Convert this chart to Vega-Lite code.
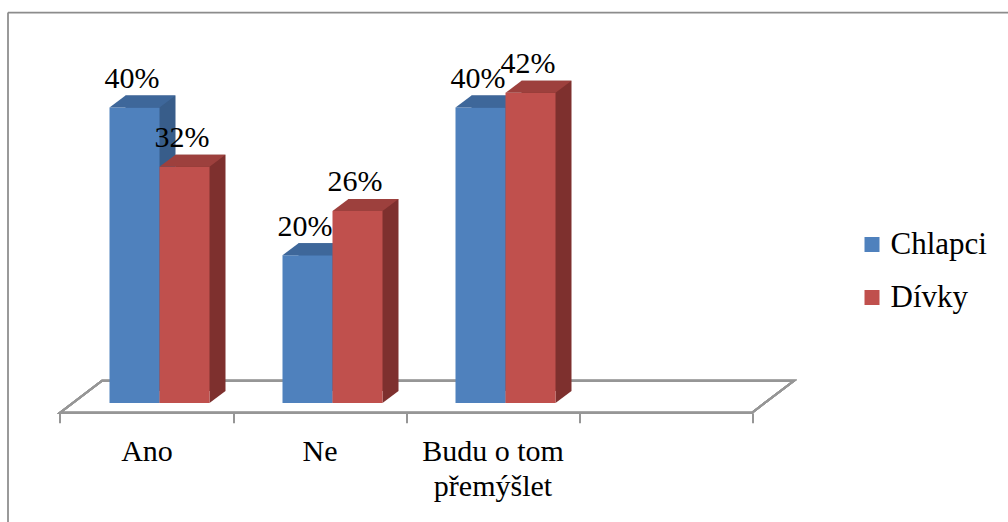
{
  "$schema": "https://vega.github.io/schema/vega-lite/v6.json",
  "width": 1000.5,
  "height": 510,
  "autosize": {"type": "none"},
  "padding": {"left": 7.5, "top": 12, "right": 0, "bottom": 0},
  "background": "white",
  "config": {"view": {"stroke": null}, "font": "Liberation Serif, Times New Roman, serif"},
  "data": {
    "values": [
      {"cat": "Ano", "series": "Chlapci", "value": 0.40},
      {"cat": "Ano", "series": "Dívky", "value": 0.32},
      {"cat": "Ne", "series": "Chlapci", "value": 0.20},
      {"cat": "Ne", "series": "Dívky", "value": 0.26},
      {"cat": "Budu o tom přemýšlet", "series": "Chlapci", "value": 0.40},
      {"cat": "Budu o tom přemýšlet", "series": "Dívky", "value": 0.42}
    ]
  },
  "encoding": {
    "x": {
      "field": "cat",
      "type": "nominal",
      "sort": null,
      "scale": {"domain": ["Ano", "Ne", "Budu o tom přemýšlet", " "], "paddingInner": 0, "paddingOuter": 0.8916, "align": 0.17018},
      "axis": {
        "title": null,
        "domain": false,
        "grid": false,
        "ticks": true,
        "tickBand": "extent",
        "tickSize": 10,
        "tickColor": "#969696",
        "tickWidth": 2,
        "labelFont": "Liberation Serif, Times New Roman, serif",
        "labelFontSize": 30,
        "labelColor": "black",
        "labelPadding": 14,
        "labelAngle": 0,
        "labelLimit": 0,
        "labelLineHeight": 35,
        "offset": -109.3,
        "labelExpr": "datum.value == 'Budu o tom přemýšlet' ? ['Budu o tom', 'přemýšlet'] : datum.label"
      }
    },
    "y": {
      "field": "value",
      "type": "quantitative",
      "scale": {"domain": [-0.16114, 0.52945], "nice": false, "zero": false},
      "axis": {
        "title": null,
        "labels": false,
        "ticks": false,
        "domain": true,
        "domainColor": "#8c8c8c",
        "domainWidth": 1.75,
        "grid": true,
        "gridColor": "#8c8c8c",
        "gridWidth": 1.75,
        "values": [0.52945]
      }
    }
  },
  "layer": [
    {
      "mark": {"type": "point", "shape": "M-1,0L1,0L1.1214,-0.0925L-0.8786,-0.0925Z", "filled": false, "stroke": "#969696", "strokeWidth": 2, "opacity": 1, "size": 478864, "xOffset": 86.5},
      "encoding": {"x": {"datum": "Ne", "type": "nominal"}, "y": {"datum": -0.01313, "type": "quantitative"}}
    },
    {
      "transform": [{"filter": "datum.series == 'Chlapci'"}],
      "layer": [
        {"mark": {"type": "bar", "width": 50, "xOffset": 4, "yOffset": -12, "y2Offset": -12, "color": "#385D8A"}},
        {"mark": {"type": "point", "shape": "M1,0L1,-0.48L1.64,-0.48Z", "filled": true, "color": "#385D8A", "opacity": 1, "strokeWidth": 0, "size": 2500, "xOffset": -12}, "encoding": {"y": {"datum": 0, "type": "quantitative"}}},
        {"mark": {"type": "bar", "width": 50, "xOffset": -12},
         "encoding": {"color": {"field": "series", "type": "nominal", "scale": {"domain": ["Chlapci", "Dívky"], "range": ["#4F81BD", "#C0504D"]},
           "legend": {"orient": "none", "legendX": 849, "legendY": 217, "title": null, "symbolType": "square", "symbolSize": 225, "symbolStrokeWidth": 0, "labelFont": "Liberation Serif, Times New Roman, serif", "labelFontSize": 31, "labelColor": "black", "labelOffset": 3, "rowPadding": 21, "padding": 0}}}},
        {"mark": {"type": "point", "shape": "M-1,0L1,0L1.64,-0.48L-0.36,-0.48Z", "filled": true, "color": "#3E679A", "opacity": 1, "strokeWidth": 0, "size": 2500, "xOffset": -12}}
      ]
    },
    {
      "transform": [{"filter": "datum.series == 'Dívky'"}],
      "layer": [
        {"mark": {"type": "bar", "width": 50, "xOffset": 54, "yOffset": -12, "y2Offset": -12, "color": "#7E302E"}},
        {"mark": {"type": "point", "shape": "M1,0L1,-0.48L1.64,-0.48Z", "filled": true, "color": "#7E302E", "opacity": 1, "strokeWidth": 0, "size": 2500, "xOffset": 38}, "encoding": {"y": {"datum": 0, "type": "quantitative"}}},
        {"mark": {"type": "bar", "width": 50, "xOffset": 38},
         "encoding": {"color": {"field": "series", "type": "nominal"}}},
        {"mark": {"type": "point", "shape": "M-1,0L1,0L1.64,-0.48L-0.36,-0.48Z", "filled": true, "color": "#9D403D", "opacity": 1, "strokeWidth": 0, "size": 2500, "xOffset": 38}}
      ]
    },
    {
      "transform": [{"filter": "datum.series == 'Chlapci'"}],
      "mark": {"type": "text", "xOffset": -14.5, "dy": -19.5, "baseline": "alphabetic", "align": "center", "font": "Liberation Serif, Times New Roman, serif", "fontSize": 30, "color": "black"},
      "encoding": {"text": {"field": "value", "type": "quantitative", "format": ".0%"}}
    },
    {
      "transform": [{"filter": "datum.series == 'Dívky'"}],
      "mark": {"type": "text", "xOffset": 35.5, "dy": -19.5, "baseline": "alphabetic", "align": "center", "font": "Liberation Serif, Times New Roman, serif", "fontSize": 30, "color": "black"},
      "encoding": {"text": {"field": "value", "type": "quantitative", "format": ".0%"}}
    }
  ]
}
